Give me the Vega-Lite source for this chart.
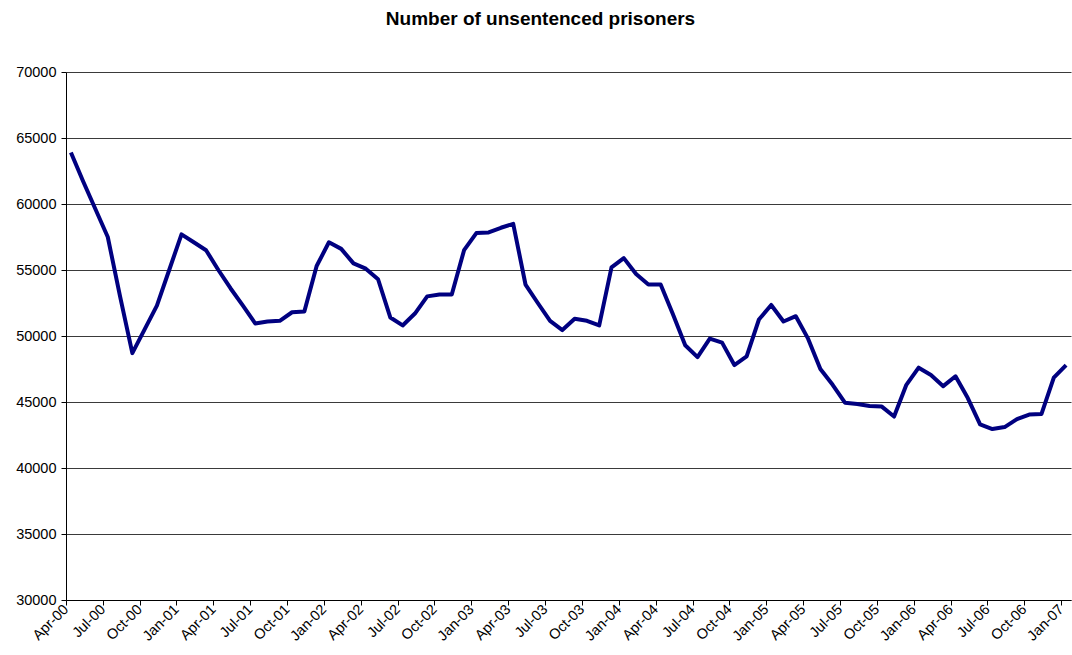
{
  "$schema": "https://vega.github.io/schema/vega-lite/v6.json",
  "width": 1005,
  "height": 528,
  "autosize": "none",
  "padding": {"left": 66, "top": 72, "right": 1, "bottom": 55},
  "background": "white",
  "config": {
    "view": {"stroke": null},
    "font": "Liberation Sans"
  },
  "title": {
    "text": "Number of unsentenced prisoners",
    "font": "Liberation Sans",
    "fontSize": 19,
    "fontWeight": "bold",
    "color": "black",
    "anchor": "middle",
    "dx": -28,
    "offset": 35
  },
  "data": {
    "values": [
      {"month": "Apr-00", "prisoners": 63900},
      {"month": "May-00", "prisoners": 61700},
      {"month": "Jun-00", "prisoners": 59600},
      {"month": "Jul-00", "prisoners": 57500},
      {"month": "Aug-00", "prisoners": 53000},
      {"month": "Sep-00", "prisoners": 48700},
      {"month": "Oct-00", "prisoners": 50500},
      {"month": "Nov-00", "prisoners": 52300},
      {"month": "Dec-00", "prisoners": 55000},
      {"month": "Jan-01", "prisoners": 57700},
      {"month": "Feb-01", "prisoners": 57100},
      {"month": "Mar-01", "prisoners": 56500},
      {"month": "Apr-01", "prisoners": 55000},
      {"month": "May-01", "prisoners": 53600},
      {"month": "Jun-01", "prisoners": 52300},
      {"month": "Jul-01", "prisoners": 50950},
      {"month": "Aug-01", "prisoners": 51100},
      {"month": "Sep-01", "prisoners": 51150},
      {"month": "Oct-01", "prisoners": 51800},
      {"month": "Nov-01", "prisoners": 51850},
      {"month": "Dec-01", "prisoners": 55300},
      {"month": "Jan-02", "prisoners": 57100},
      {"month": "Feb-02", "prisoners": 56600},
      {"month": "Mar-02", "prisoners": 55500},
      {"month": "Apr-02", "prisoners": 55100},
      {"month": "May-02", "prisoners": 54300},
      {"month": "Jun-02", "prisoners": 51400},
      {"month": "Jul-02", "prisoners": 50800},
      {"month": "Aug-02", "prisoners": 51700},
      {"month": "Sep-02", "prisoners": 53000},
      {"month": "Oct-02", "prisoners": 53150},
      {"month": "Nov-02", "prisoners": 53150},
      {"month": "Dec-02", "prisoners": 56500},
      {"month": "Jan-03", "prisoners": 57800},
      {"month": "Feb-03", "prisoners": 57850},
      {"month": "Mar-03", "prisoners": 58200},
      {"month": "Apr-03", "prisoners": 58500},
      {"month": "May-03", "prisoners": 53900},
      {"month": "Jun-03", "prisoners": 52500},
      {"month": "Jul-03", "prisoners": 51150},
      {"month": "Aug-03", "prisoners": 50450},
      {"month": "Sep-03", "prisoners": 51300},
      {"month": "Oct-03", "prisoners": 51150},
      {"month": "Nov-03", "prisoners": 50800},
      {"month": "Dec-03", "prisoners": 55200},
      {"month": "Jan-04", "prisoners": 55900},
      {"month": "Feb-04", "prisoners": 54700},
      {"month": "Mar-04", "prisoners": 53900},
      {"month": "Apr-04", "prisoners": 53900},
      {"month": "May-04", "prisoners": 51650},
      {"month": "Jun-04", "prisoners": 49300},
      {"month": "Jul-04", "prisoners": 48400},
      {"month": "Aug-04", "prisoners": 49800},
      {"month": "Sep-04", "prisoners": 49500},
      {"month": "Oct-04", "prisoners": 47800},
      {"month": "Nov-04", "prisoners": 48450},
      {"month": "Dec-04", "prisoners": 51250},
      {"month": "Jan-05", "prisoners": 52350},
      {"month": "Feb-05", "prisoners": 51100},
      {"month": "Mar-05", "prisoners": 51500},
      {"month": "Apr-05", "prisoners": 49800},
      {"month": "May-05", "prisoners": 47500},
      {"month": "Jun-05", "prisoners": 46300},
      {"month": "Jul-05", "prisoners": 44950},
      {"month": "Aug-05", "prisoners": 44850},
      {"month": "Sep-05", "prisoners": 44700},
      {"month": "Oct-05", "prisoners": 44650},
      {"month": "Nov-05", "prisoners": 43900},
      {"month": "Dec-05", "prisoners": 46300},
      {"month": "Jan-06", "prisoners": 47600},
      {"month": "Feb-06", "prisoners": 47050},
      {"month": "Mar-06", "prisoners": 46200},
      {"month": "Apr-06", "prisoners": 46950},
      {"month": "May-06", "prisoners": 45300},
      {"month": "Jun-06", "prisoners": 43300},
      {"month": "Jul-06", "prisoners": 42950},
      {"month": "Aug-06", "prisoners": 43100},
      {"month": "Sep-06", "prisoners": 43700},
      {"month": "Oct-06", "prisoners": 44050},
      {"month": "Nov-06", "prisoners": 44100},
      {"month": "Dec-06", "prisoners": 46850},
      {"month": "Jan-07", "prisoners": 47800}
    ]
  },
  "mark": {"type": "line", "color": "#000080", "strokeWidth": 4, "strokeJoin": "round"},
  "encoding": {
    "x": {
      "field": "month",
      "type": "ordinal",
      "sort": null,
      "scale": {"type": "point", "padding": 0.4},
      "axis": {
        "title": null,
        "values": ["Apr-00", "Jul-00", "Oct-00", "Jan-01", "Apr-01", "Jul-01", "Oct-01", "Jan-02", "Apr-02", "Jul-02", "Oct-02", "Jan-03", "Apr-03", "Jul-03", "Oct-03", "Jan-04", "Apr-04", "Jul-04", "Oct-04", "Jan-05", "Apr-05", "Jul-05", "Oct-05", "Jan-06", "Apr-06", "Jul-06", "Oct-06", "Jan-07"],
        "labelAngle": -45,
        "labelAlign": "right",
        "labelBaseline": "middle",
        "labelFont": "Liberation Sans",
        "labelFontSize": 14.5,
        "labelColor": "black",
        "labelPadding": 2,
        "labelOverlap": false,
        "tickOffset": -5,
        "tickSize": 5,
        "tickColor": "black",
        "domainColor": "black",
        "grid": false
      }
    },
    "y": {
      "field": "prisoners",
      "type": "quantitative",
      "scale": {"domain": [30000, 70000], "nice": false, "zero": false},
      "axis": {
        "title": null,
        "values": [30000, 35000, 40000, 45000, 50000, 55000, 60000, 65000, 70000],
        "format": "d",
        "labelFont": "Liberation Sans",
        "labelFontSize": 14.5,
        "labelColor": "black",
        "labelPadding": 5,
        "tickSize": 5,
        "tickColor": "black",
        "domainColor": "black",
        "gridColor": "#3a3a3a",
        "gridOpacity": 1,
        "gridWidth": 1
      }
    }
  }
}
